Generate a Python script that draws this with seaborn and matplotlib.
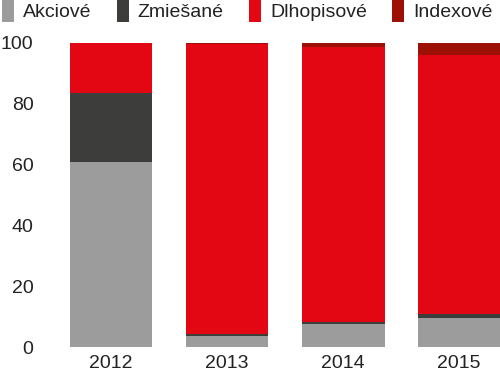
import numpy as np
import pandas as pd
import matplotlib
matplotlib.use('Agg')
import matplotlib.pyplot as plt
import seaborn as sns
from matplotlib.patches import Patch

# podiely typov fondov (%)
years = ['2012', '2013', '2014', '2015']
akciove = [61.0, 3.6, 7.7, 9.7]
zmiesane = [22.5, 0.7, 0.4, 1.1]
dlhopisove = [16.5, 95.5, 90.6, 85.2]
indexove = [0.0, 0.2, 1.3, 4.0]

labels = ['Akciové', 'Zmiešané', 'Dlhopisové', 'Indexové']
colors = ['#9d9c9c', '#3d3d3c', '#e30613', '#9c1006']

sns.set_theme(style='white')
plt.rcParams['font.family'] = ['Liberation Sans', 'DejaVu Sans']

df = pd.DataFrame({'rok': years, 'Akciové': akciove, 'Zmiešané': zmiesane,
                   'Dlhopisové': dlhopisove, 'Indexové': indexove})
cum = df[labels].cumsum(axis=1)

fig = plt.figure(figsize=(5, 3.8), dpi=100)
ax = fig.add_axes([53 / 500, 33 / 380, 447 / 500, 304 / 380])

# vrstvy od najvyššej kumulatívnej sumy po najnižšiu
for lab, col in reversed(list(zip(labels, colors))):
    sns.barplot(x=df['rok'], y=cum[lab], color=col, width=0.715,
                saturation=1, linewidth=0, ax=ax)

ax.set_xlim(-0.5, 3.353)
ax.set_ylim(0, 100)
ax.set_yticks([0, 20, 40, 60, 80, 100])
ax.set_xlabel(None)
ax.set_ylabel(None)
sns.despine(ax=ax, left=True, bottom=True)
ax.tick_params(axis='y', length=0, pad=14, labelsize=14, labelcolor='#222222')
ax.tick_params(axis='x', length=0, pad=6, labelsize=14, labelcolor='#222222')

handles = [Patch(facecolor=c, edgecolor='none', label=l) for l, c in zip(labels, colors)]
fig.legend(handles=handles, loc='upper left', bbox_to_anchor=(0.004, 1.0), ncol=4,
           frameon=False, fontsize=14, handlelength=0.62, handleheight=1.35,
           handletextpad=0.46, columnspacing=1.3, borderaxespad=0, borderpad=0,
           labelcolor='#222222')

fig.savefig('out.png', dpi=100)
